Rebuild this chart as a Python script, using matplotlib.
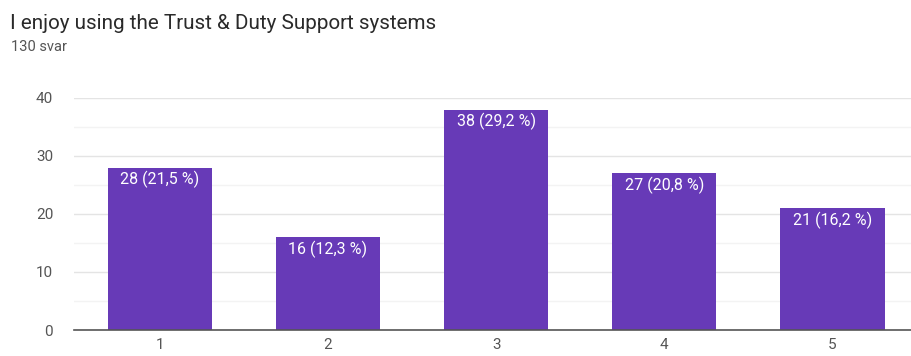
import matplotlib
matplotlib.use("Agg")
import matplotlib.pyplot as plt
from matplotlib.ticker import MultipleLocator

categories = ["1", "2", "3", "4", "5"]
counts = [28, 16, 38, 27, 21]
percents = ["21,5", "12,3", "29,2", "20,8", "16,2"]
total_responses = 130

plt.rcParams["font.family"] = ["Roboto", "DejaVu Sans"]

fig = plt.figure(figsize=(9.11, 3.56), dpi=100)
ax = fig.add_axes([0.0812, 0.073, 0.925, 0.652])

x = list(range(1, len(categories) + 1))
bars = ax.bar(x, counts, width=0.62, color="#673ab7", zorder=3)

for xi, c, p in zip(x, counts, percents):
    ax.text(xi, c - 0.6, f"{c} ({p} %)", ha="center", va="top",
            color="white", fontsize=11.5, zorder=4)

ax.set_xlim(0.49, 5.5)
ax.set_ylim(0, 40)
ax.set_xticks(x)
ax.set_xticklabels(categories)
ax.yaxis.set_major_locator(MultipleLocator(10))
ax.yaxis.set_minor_locator(MultipleLocator(5))

ax.grid(axis="y", which="major", color="#e4e4e4", linewidth=1.0, zorder=0)
ax.grid(axis="y", which="minor", color="#f3f3f3", linewidth=1.0, zorder=0)

for side in ["top", "right", "left"]:
    ax.spines[side].set_visible(False)
ax.spines["bottom"].set_color("#555555")
ax.spines["bottom"].set_linewidth(1.2)
ax.spines["bottom"].set_zorder(5)

ax.tick_params(axis="both", which="both", length=0, labelsize=11, colors="#555555")
ax.tick_params(axis="y", pad=15)
ax.tick_params(axis="x", pad=6)

fig.text(0.011, 0.935, "I enjoy using the Trust & Duty Support systems",
         fontsize=14.9, color="#2a2a2a", va="center", ha="left")
fig.text(0.012, 0.868, f"{total_responses} svar",
         fontsize=10.5, color="#555555", va="center", ha="left")

fig.savefig("out.png", dpi=100)
